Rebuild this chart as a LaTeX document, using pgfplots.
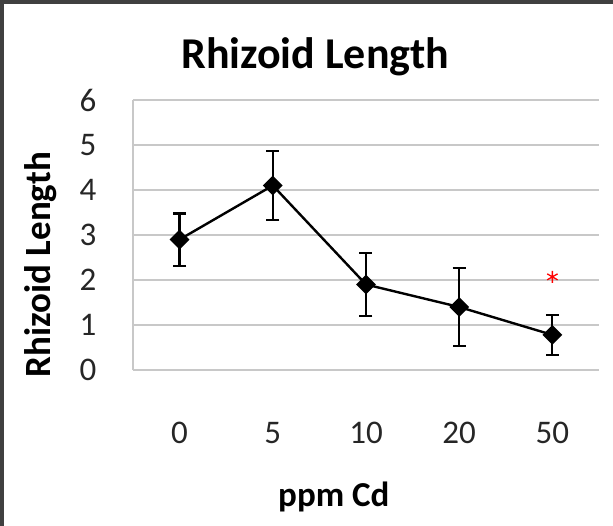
\documentclass[border=0pt]{standalone}
\usepackage{fontspec}
\setmainfont{Carlito}
\usepackage{pgfplots}
\pgfplotsset{compat=1.18}
\definecolor{gridgray}{HTML}{C8C8C8}
\definecolor{framegray}{HTML}{404040}
\begin{document}
\begin{tikzpicture}
\useasboundingbox (-133bp,-156bp) rectangle (480bp,370bp);
\draw[line width=4bp, framegray] (-131bp,-156bp) -- (-131bp,368bp) -- (480bp,368bp);
\begin{axis}[
  at={(0,0)}, anchor=south west,
  width=466bp, height=270bp, scale only axis,
  xmin=-0.5, xmax=4.5, ymin=0, ymax=6,
  xtick={0,1,2,3,4}, xticklabels={0,5,10,20,50},
  ytick={0,1,2,3,4,5,6},
  major tick length=0pt,
  axis x line=bottom, axis y line=left,
  axis line style={gridgray, line width=1.6bp, -},
  ymajorgrids, major grid style={gridgray, line width=1.6bp},
  /pgf/number format/assume math mode=true,
  ticklabel style={font=\fontsize{33bp}{40bp}\selectfont, text=black!85},
  xticklabel style={anchor=center, yshift=-63bp},
  yticklabel style={anchor=center, xshift=-45bp},
  title={\textbf{Rhizoid Length}},
  title style={at={(axis description cs:0.391,1.094)}, anchor=base, font=\fontsize{44bp}{50bp}\selectfont},
  xlabel={\textbf{ppm Cd}},
  xlabel style={at={(axis description cs:0.431,-0.504)}, anchor=base, font=\fontsize{35bp}{42bp}\selectfont},
  ylabel={\textbf{Rhizoid Length}},
  ylabel style={at={(axis description cs:-0.178,0.39)}, anchor=base, rotate=0, font=\fontsize{37bp}{44bp}\selectfont},
  clip=false,
]
\addplot[black, line width=2.4bp, mark=square*, mark size=5.8bp, mark options={rotate=45, solid},
  error bars/.cd, y dir=both, y explicit,
  error bar style={line width=2.2bp, black},
  error mark options={rotate=90, mark size=6.5bp, line width=2.2bp, black}]
coordinates {
  (0,2.9) +- (0,0.58)
  (1,4.1) +- (0,0.76)
  (2,1.9) +- (0,0.70)
  (3,1.4) +- (0,0.86)
  (4,0.78) +- (0,0.45)
};
\addplot[only marks, red, mark=asterisk, mark size=6bp, mark options={line width=1.3bp}]
coordinates {(4,2.07)};
\end{axis}
\end{tikzpicture}
\end{document}
